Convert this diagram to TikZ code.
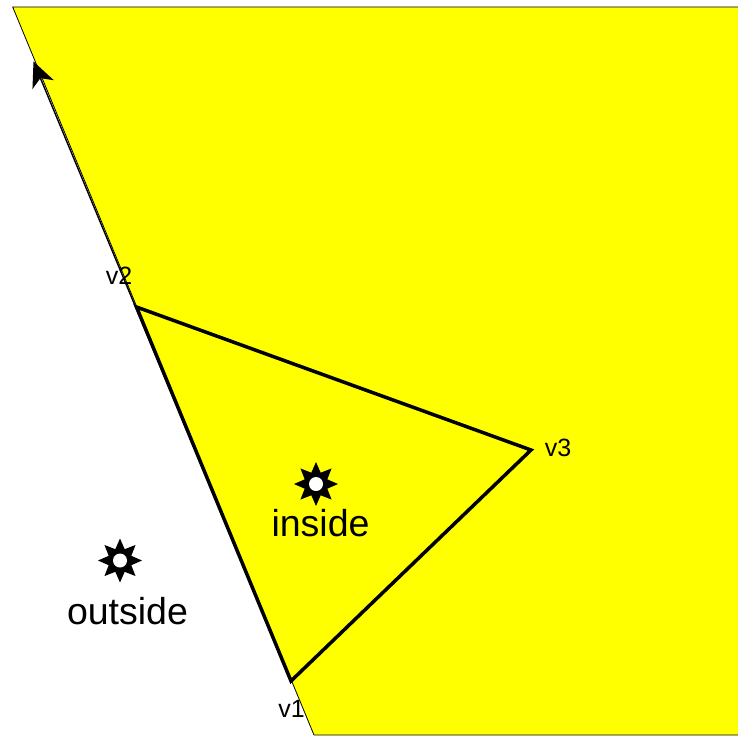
\documentclass[tikz,border=0pt]{standalone}
\usepackage{fontspec}
\setmainfont{Liberation Sans}
\usetikzlibrary{arrows.meta,shapes.geometric}
\definecolor{regionyellow}{RGB}{255,255,0}
\begin{document}
\begin{tikzpicture}[x=1pt,y=-1pt,
  region/.style={fill=regionyellow, draw=black, line width=0.8pt},
  tri/.style={draw=black, line width=3.5pt, line join=miter},
  ray/.style={draw=black, line width=1.4pt, -{Stealth[length=25pt,width=23pt,inset=7pt]}},
  vlabel/.style={font=\fontsize{25}{27}\selectfont, inner sep=0pt},
  biglabel/.style={font=\fontsize{37.5}{40}\selectfont, inner sep=0pt},
  starmark/.style={star, star points=8, star point ratio=1.8, minimum size=44pt, inner sep=0pt, fill=black},
  hole/.style={circle, fill=white, minimum size=14pt, inner sep=0pt}
]
\useasboundingbox (0,0) rectangle (738,736);
\coordinate (p1) at (12.7,7);
\coordinate (p2) at (745,7);
\coordinate (p3) at (745,735);
\coordinate (p4) at (314,735);
\path[region] (p1) -- (p2) -- (p3) -- (p4) -- cycle;
\coordinate (v1) at (291,681);
\coordinate (v2) at (136.5,307);
\coordinate (v3) at (531,450);
\coordinate (tip) at (33.5,61.5);
\draw[ray] (v1) -- (tip);
\draw[tri] (v1) -- (v2) -- (v3) -- cycle;
\node[vlabel] (l1) at (291.5,709) {v1};
\node[vlabel] (l2) at (119,276) {v2};
\node[vlabel] (l3) at (558,447.5) {v3};
\node[starmark] (sin) at (316,484) {};
\node[hole] (hin) at (sin.center) {};
\node[starmark] (sout) at (120,560.5) {};
\node[hole] (hout) at (sout.center) {};
\node[biglabel] (tin) at (320.5,523.5) {inside};
\node[biglabel] (tout) at (127.5,611) {outside};
\end{tikzpicture}
\end{document}
